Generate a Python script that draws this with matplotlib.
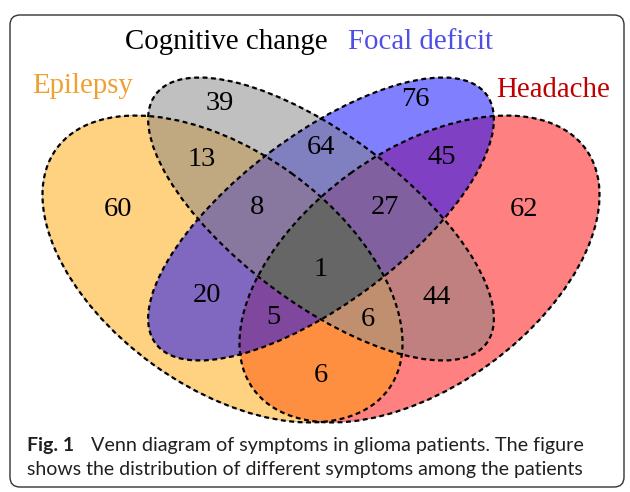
import numpy as np
import matplotlib
matplotlib.use("Agg")
import matplotlib.pyplot as plt
from matplotlib.patches import Ellipse, FancyBboxPatch
from matplotlib.colors import to_rgb

# ---------------- data ----------------
categories = ["Epilepsy", "Cognitive change", "Focal deficit", "Headache"]
category_colors = ["#F0A030", "#000000", "#4F4FE8", "#C00000"]

# region membership (E, C, F, H) and counts
region_sets = ["E", "C", "F", "H",
               "EC", "EF", "EH", "CF", "CH", "FH",
               "ECF", "ECH", "EFH", "CFH", "ECFH"]
region_counts = [60, 39, 76, 62,
                 13, 20, 6, 64, 44, 45,
                 8, 6, 5, 27, 1]
region_colors = ["#FFD282", "#C0C0C0", "#8080FF", "#FF8080",
                 "#C0A880", "#8068C0", "#FF9040", "#8080C0", "#C08080", "#8040C4",
                 "#8878A0", "#C09070", "#8048A0", "#8060A0", "#666666"]

# ---------------- layout (pixel space) ----------------
W, H = 630, 492
ell = {  # cx, cy, semi-major, semi-minor, angle (deg, y-down)
    "E": (222.5, 269, 205, 118, 35.8),
    "C": (321, 219, 207, 84, 37.0),
    "F": (321, 219, 207, 84, -37.0),
    "H": (419.5, 269, 205, 118, -35.8),
}
label_pos = {
    "E": (118, 209), "C": (220, 103), "F": (415, 100), "H": (524, 209),
    "EC": (202, 160), "EF": (207, 296), "EH": (321, 376), "CF": (321, 148),
    "CH": (437, 297), "FH": (442, 158), "ECF": (257, 208), "ECH": (368, 319),
    "EFH": (273, 318), "CFH": (385, 208), "ECFH": (321, 269),
}
cat_pos = [(83, 86), (226, 42), (421, 42), (553, 90)]

fig = plt.figure(figsize=(W / 100, H / 100), dpi=100)
ax = fig.add_axes([0, 0, 1, 1])
ax.set_xlim(0, W)
ax.set_ylim(H, 0)
ax.axis("off")

# rounded frame
frame = FancyBboxPatch((10, 15), 614, 472, boxstyle="round,pad=0,rounding_size=10",
                       fill=False, edgecolor="#333333", linewidth=1.0)
ax.add_patch(frame)

# region map
ss = 3
xs = (np.arange(W * ss) + 0.5) / ss
ys = (np.arange(H * ss) + 0.5) / ss
X, Y = np.meshgrid(xs, ys)


def inside(key):
    cx, cy, a, b, ang = ell[key]
    t = np.deg2rad(ang)
    dx, dy = X - cx, Y - cy
    u = dx * np.cos(t) + dy * np.sin(t)
    v = -dx * np.sin(t) + dy * np.cos(t)
    return (u / a) ** 2 + (v / b) ** 2 <= 1.0


masks = {k: inside(k) for k in "ECFH"}
img = np.zeros((H * ss, W * ss, 4))
for s, col in zip(region_sets, region_colors):
    m = np.ones_like(X, dtype=bool)
    for k in "ECFH":
        m &= masks[k] if k in s else ~masks[k]
    img[m, :3] = to_rgb(col)
    img[m, 3] = 1.0
ax.imshow(img, extent=(0, W, H, 0), interpolation="antialiased", zorder=1)

# dashed outlines
for k in "ECFH":
    cx, cy, a, b, ang = ell[k]
    ax.add_patch(Ellipse((cx, cy), 2 * a, 2 * b, angle=ang, fill=False,
                         edgecolor="black", linewidth=1.6,
                         linestyle=(0, (2.2, 1.6)), zorder=2))

serif = ["Liberation Serif", "DejaVu Serif"]
for s, n in zip(region_sets, region_counts):
    x, y = label_pos[s]
    ax.text(x, y, str(n), ha="center", va="center", fontsize=20.5,
            family=serif, color="black", zorder=3)

for name, col, (x, y) in zip(categories, category_colors, cat_pos):
    ax.text(x, y, name, ha="center", va="center", fontsize=20.8,
            family=serif, color=col, zorder=3)

# caption
cap_font = ["Lato", "DejaVu Sans"]
t1 = ax.text(27, 445, "Fig. 1", ha="left", va="center", fontsize=14,
             family=cap_font, weight="bold", color="#231F20")
fig.canvas.draw()
bb = t1.get_window_extent()
x_end = ax.transData.inverted().transform((bb.x1, bb.y0))[0]
ax.text(x_end + 17, 445, "Venn diagram of symptoms in glioma patients. The figure",
        ha="left", va="center", fontsize=14.2, family=cap_font, color="#231F20")
ax.text(27, 470, "shows the distribution of different symptoms among the patients",
        ha="left", va="center", fontsize=14, family=cap_font, color="#231F20")

fig.savefig("out.png", dpi=100)
